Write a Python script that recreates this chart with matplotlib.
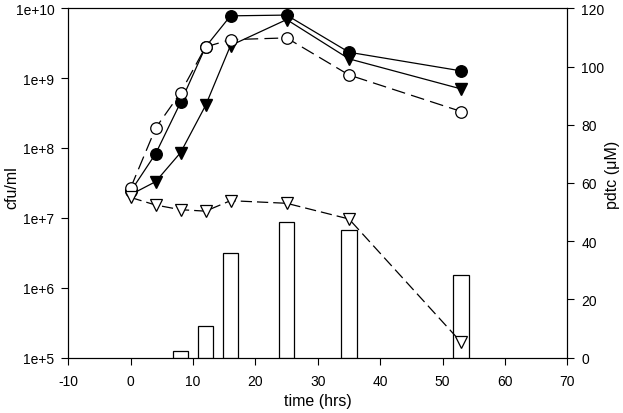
import matplotlib
matplotlib.use('Agg')
import matplotlib.pyplot as plt

plt.rcParams['font.family'] = ['Liberation Sans', 'DejaVu Sans']
plt.rcParams['axes.unicode_minus'] = False

# time points (hrs)
t = [0, 4, 8, 12, 16, 25, 35, 53]

# cfu/ml series (left, log axis)
cfu_filled_circle = [2.4e7, 8.3e7, 4.5e8, 2.8e9, 7.8e9, 8.0e9, 2.35e9, 1.27e9]
cfu_open_circle = [2.7e7, 1.93e8, 6.2e8, 2.8e9, 3.56e9, 3.77e9, 1.11e9, 3.33e8]
cfu_filled_tri = [2.15e7, 3.3e7, 8.6e7, 4.06e8, 2.93e9, 6.9e9, 1.89e9, 7.0e8]

# pdtc (right axis)
pdtc_tri = [55.0, 52.4, 50.8, 50.3, 53.9, 53.0, 47.6, 5.2]
bar_t = [8, 12, 16, 25, 35, 53]
bar_pdtc = [2.2, 10.9, 36.0, 46.4, 43.7, 28.4]

left_ticks = [1e5, 1e6, 1e7, 1e8, 1e9, 1e10]
left_labels = ['1e+5', '1e+6', '1e+7', '1e+8', '1e+9', '1e+10']

W, H = 623, 414
fig = plt.figure(figsize=(W / 100, H / 100), dpi=100)
ax = fig.add_axes([0.1097, 0.134, 0.8009, 0.8435])
ax2 = ax.twinx()

ax.set_yscale('log')
ax.set_ylim(1e5, 1e10)
ax.set_xlim(-10, 70)
ax.set_yticks(left_ticks)
ax.set_yticklabels(left_labels)
ax.minorticks_off()
ax.set_xticks(range(-10, 71, 10))

ms = 8.3
ax.plot(t, cfu_filled_circle, '-', c='black', lw=0.9, marker='o', ms=ms,
        mfc='black', mec='black', zorder=3)
ax.plot(t, cfu_filled_tri, '-', c='black', lw=0.9, marker='v', ms=ms,
        mfc='black', mec='black', zorder=3)
ax.plot(t, cfu_open_circle, c='black', lw=0.9, ls=(0, (11, 5)), marker='o', ms=ms,
        mfc='white', mec='black', mew=0.9, zorder=4)

ax2.bar(bar_t, bar_pdtc, width=2.5, color='white', edgecolor='black', lw=0.9, zorder=1)
ax2.plot(t, pdtc_tri, c='black', lw=0.9, ls=(0, (9, 4)), marker='v', ms=ms,
         mfc='white', mec='black', mew=0.9, zorder=3)
ax2.set_ylim(0, 120)
ax2.set_yticks(range(0, 121, 20))

for a in (ax, ax2):
    a.tick_params(direction='out', length=5, width=0.8, labelsize=10, pad=5)
    for s in a.spines.values():
        s.set_linewidth(0.8)
ax.tick_params(axis='x', pad=7)

# axis titles placed at their pixel positions in the reference
fig.text(318 / W, 1 - 402 / H, 'time (hrs)', fontsize=11.5, ha='center', va='center')
fig.text(12 / W, 1 - 188 / H, 'cfu/ml', fontsize=11.5, rotation=90, ha='center', va='center')
fig.text(613 / W, 1 - 175 / H, 'pdtc (\u03bcM)', fontsize=11.5, rotation=90, ha='center', va='center')

fig.savefig('out.png', dpi=100)
